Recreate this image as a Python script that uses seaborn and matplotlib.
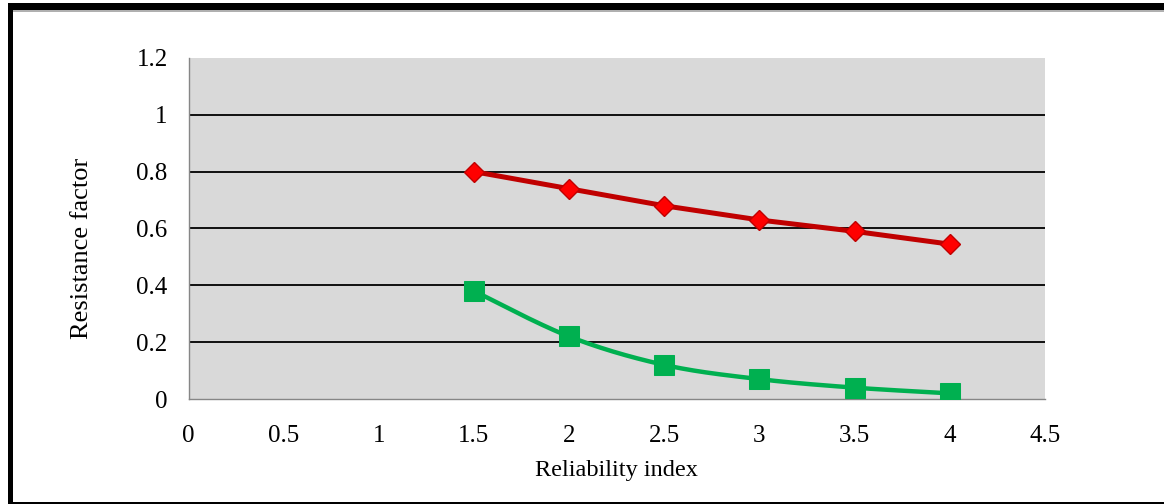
import numpy as np
import pandas as pd
import matplotlib
matplotlib.use("Agg")
import matplotlib.pyplot as plt
from matplotlib.patches import Rectangle
import seaborn as sns

# Reliability index (beta) and resulting resistance factors
beta = [1.5, 2.0, 2.5, 3.0, 3.5, 4.0]
phi_upper = [0.80, 0.74, 0.68, 0.63, 0.59, 0.545]
phi_lower = [0.38, 0.22, 0.12, 0.07, 0.04, 0.02]

x_ticks = [0, 0.5, 1, 1.5, 2, 2.5, 3, 3.5, 4, 4.5]
y_ticks = [0, 0.2, 0.4, 0.6, 0.8, 1.0, 1.2]
x_tick_labels = ["0", "0.5", "1", "1.5", "2", "2.5", "3", "3.5", "4", "4.5"]
y_tick_labels = ["0", "0.2", "0.4", "0.6", "0.8", "1", "1.2"]


def smooth_curve(xs, ys, n=40):
    """Bezier smoothing through every point (spreadsheet-style smoothed line)."""
    p = np.column_stack([xs, ys]).astype(float)
    ext = np.vstack([p[0], p, p[-1]])
    out = []
    t = np.linspace(0, 1, n)[:, None]
    for i in range(len(p) - 1):
        p0, p1, p2, p3 = ext[i], ext[i + 1], ext[i + 2], ext[i + 3]
        c1 = p1 + (p2 - p0) / 6.0
        c2 = p2 - (p3 - p1) / 6.0
        seg = ((1 - t) ** 3) * p1 + 3 * ((1 - t) ** 2) * t * c1 + 3 * (1 - t) * t ** 2 * c2 + t ** 3 * p2
        out.append(seg if i == 0 else seg[1:])
    arr = np.vstack(out)
    return arr[:, 0], arr[:, 1]


sns.set_theme(style="white")
plt.rcParams["font.family"] = ["Liberation Serif", "DejaVu Serif"]

fig = plt.figure(figsize=(11.64, 5.04), dpi=100)
ax = fig.add_axes([0.162, 0.2083, 0.7356, 0.6767])
ax.set_facecolor("#D9D9D9")

# horizontal gridlines
for yv in y_ticks[1:-1]:
    ax.axhline(yv, color="black", lw=1.3, zorder=1)

# upper curve: straight segments with diamond markers
df_up = pd.DataFrame({"beta": beta, "phi": phi_upper})
sns.lineplot(data=df_up, x="beta", y="phi", ax=ax, color="#C00000", lw=3.6,
             marker="D", markersize=10.3, markerfacecolor="#FF0000",
             markeredgecolor="#C00000", markeredgewidth=1.0, zorder=3)

# lower curve: smoothed line with square markers
sx, sy = smooth_curve(beta, phi_lower)
df_smooth = pd.DataFrame({"beta": sx, "phi": sy})
sns.lineplot(data=df_smooth, x="beta", y="phi", ax=ax, color="#00B050", lw=3.2,
             sort=False, estimator=None, zorder=3)
df_low = pd.DataFrame({"beta": beta, "phi": phi_lower})
sns.lineplot(data=df_low, x="beta", y="phi", ax=ax, linestyle="", marker="s",
             markersize=13.8, markerfacecolor="#00B050", markeredgecolor="#00B050",
             color="#00B050", zorder=4)

ax.set_xlim(0, 4.5)
ax.set_ylim(0, 1.2)
ax.set_xticks(x_ticks)
ax.set_xticklabels(x_tick_labels)
ax.set_yticks(y_ticks)
ax.set_yticklabels(y_tick_labels)
ax.tick_params(axis="x", length=0, pad=18.5, labelsize=18, labelcolor="black")
ax.tick_params(axis="y", length=0, pad=15, labelsize=18, labelcolor="black")

for side in ("top", "right"):
    ax.spines[side].set_visible(False)
for side in ("left", "bottom"):
    ax.spines[side].set_color("#868686")
    ax.spines[side].set_linewidth(1.0)

ax.set_xlabel("Reliability index", fontsize=17.5, color="black")
ax.set_ylabel("Resistance factor", fontsize=19, color="black")
ax.xaxis.set_label_coords(0.5, -0.209, transform=ax.transAxes)
ax.yaxis.set_label_coords(-0.124, 0.443, transform=ax.transAxes)
ax.xaxis.label.set_va("center")
ax.yaxis.label.set_va("center")

# outer frame around the figure
W, H = 1164.0, 504.0
frame = [
    (8, 0, 5, 501),        # left bar
    (8, 494, 1156, 7),     # top bar
    (8, 0, 1156, 2.5),     # bottom bar
]
for x0, y0, w, h in frame:
    fig.add_artist(Rectangle((x0 / W, y0 / H), w / W, h / H, transform=fig.transFigure,
                             facecolor="black", edgecolor="none", zorder=10))
fig.add_artist(Rectangle((13 / W, 492 / H), 1151 / W, 2 / H, transform=fig.transFigure,
                         facecolor="#B0B0B0", edgecolor="none", zorder=10))

fig.savefig("out.png", dpi=100)
